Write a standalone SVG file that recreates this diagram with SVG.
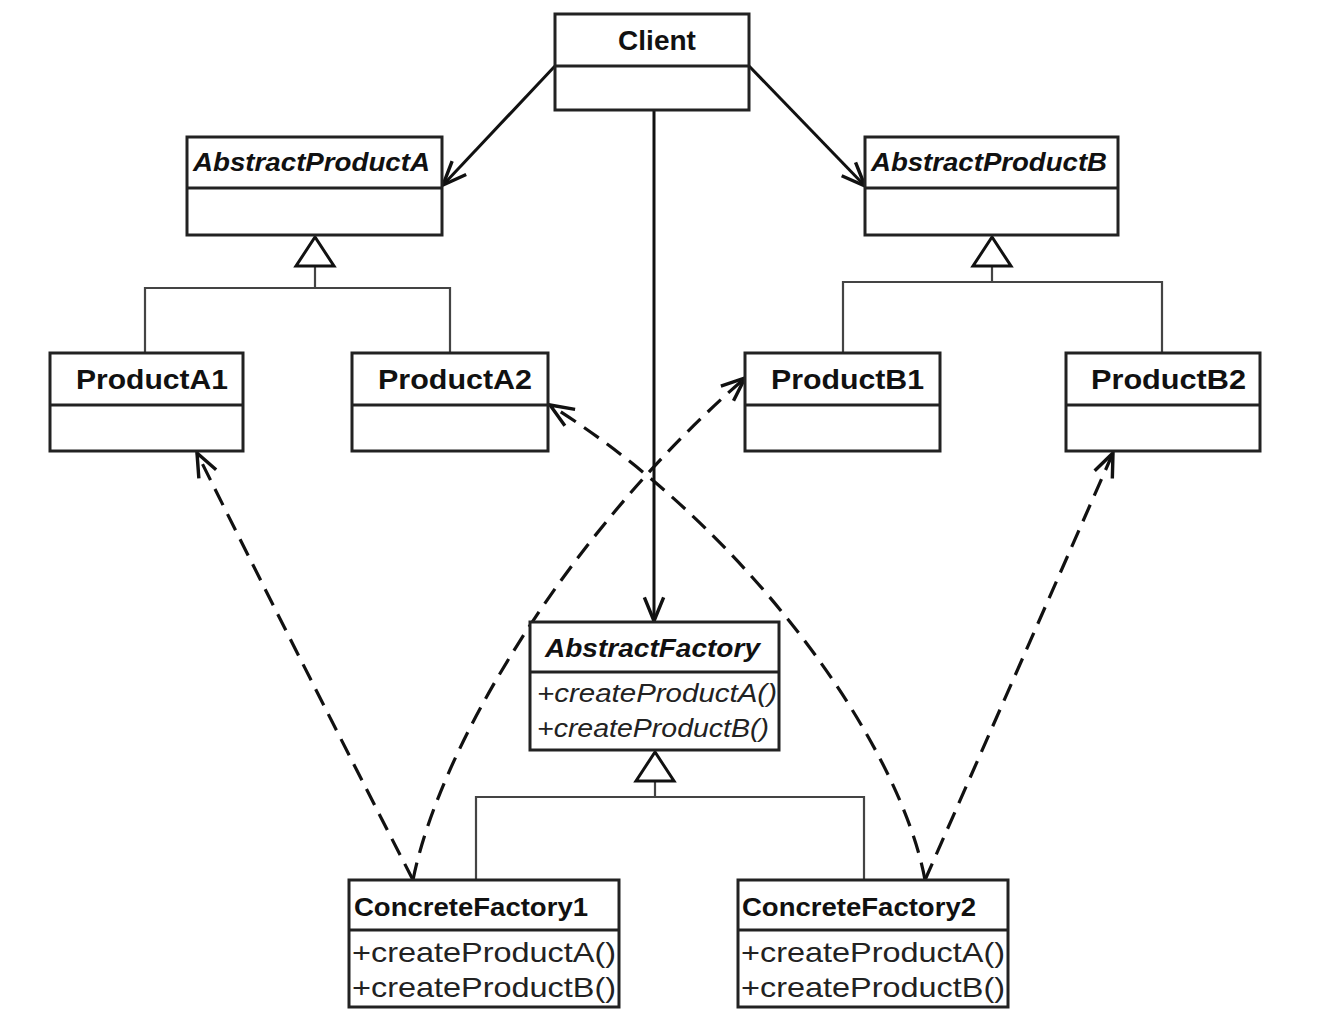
<svg xmlns="http://www.w3.org/2000/svg" width="1324" height="1024" viewBox="0 0 1324 1024">
<defs>
<marker id="open" markerUnits="userSpaceOnUse" markerWidth="30" markerHeight="30" viewBox="-24 -12 28 24" refX="0" refY="0" orient="auto">
<path d="M-22,-9 L0,0 L-22,9" fill="none" stroke="#111" stroke-width="3.2"/>
</marker>
</defs>
<style>
.box{fill:#fff;stroke:#222;stroke-width:3}
.div{stroke:#222;stroke-width:3}
.t{font-family:"Liberation Sans",Arial,sans-serif;font-weight:bold;fill:#111}
.it{font-style:italic}
.m{font-family:"Liberation Sans",Arial,sans-serif;fill:#222}
.gen{fill:none;stroke:#444;stroke-width:2.2}
.tri{fill:#fff;stroke:#111;stroke-width:3;stroke-linejoin:miter}
.assoc{fill:none;stroke:#111;stroke-width:3}
.dash{fill:none;stroke:#111;stroke-width:3.2;stroke-dasharray:18 10}
</style>
<rect width="1324" height="1024" fill="#fff"/>

<g id="connectors">
<line class="assoc" x1="555" y1="66" x2="443" y2="185" marker-end="url(#open)"/>
<line class="assoc" x1="749" y1="66" x2="865" y2="186" marker-end="url(#open)"/>
<line class="assoc" x1="654" y1="110" x2="654" y2="621" stroke-width="2.4" marker-end="url(#open)"/>
<polyline class="gen" points="145,353 145,288 450,288 450,353"/>
<line class="gen" x1="315" y1="266" x2="315" y2="288"/>
<polygon class="tri" points="315,237 296,266 334,266"/>
<polyline class="gen" points="843,353 843,282 1162,282 1162,353"/>
<line class="gen" x1="992" y1="266" x2="992" y2="282"/>
<polygon class="tri" points="992,237 973,266 1011,266"/>
<polyline class="gen" points="476,880 476,797 864,797 864,880"/>
<line class="gen" x1="655" y1="781" x2="655" y2="797"/>
<polygon class="tri" points="655,752 636,781 674,781"/>
<path class="dash" d="M413,880 Q300,660 197,453" marker-end="url(#open)"/>
<path class="dash" d="M413,880 C440,745 570,530 745,378" marker-end="url(#open)"/>
<path class="dash" d="M925,880 C900,745 750,530 550,405" marker-end="url(#open)"/>
<path class="dash" d="M925,880 L1113,453" marker-end="url(#open)"/>
</g>

<g id="Client">
<rect class="box" x="555" y="14" width="194" height="96"/>
<line class="div" x1="555" y1="66" x2="749" y2="66"/>
<text class="t" x="657" y="50" font-size="28" text-anchor="middle">Client</text>
</g>

<g id="AbstractProductA">
<rect class="box" x="187" y="137" width="255" height="98"/>
<line class="div" x1="187" y1="188" x2="442" y2="188"/>
<text class="t it" x="193" y="171" font-size="26" textLength="237" lengthAdjust="spacingAndGlyphs">AbstractProductA</text>
</g>

<g id="AbstractProductB">
<rect class="box" x="865" y="137" width="253" height="98"/>
<line class="div" x1="865" y1="188" x2="1118" y2="188"/>
<text class="t it" x="871" y="171" font-size="26" textLength="236" lengthAdjust="spacingAndGlyphs">AbstractProductB</text>
</g>

<g id="ProductA1">
<rect class="box" x="50" y="353" width="193" height="98"/>
<line class="div" x1="50" y1="405" x2="243" y2="405"/>
<text class="t" x="76" y="389" font-size="28" textLength="152" lengthAdjust="spacingAndGlyphs">ProductA1</text>
</g>

<g id="ProductA2">
<rect class="box" x="352" y="353" width="196" height="98"/>
<line class="div" x1="352" y1="405" x2="548" y2="405"/>
<text class="t" x="378" y="389" font-size="28" textLength="154" lengthAdjust="spacingAndGlyphs">ProductA2</text>
</g>

<g id="ProductB1">
<rect class="box" x="745" y="353" width="195" height="98"/>
<line class="div" x1="745" y1="405" x2="940" y2="405"/>
<text class="t" x="771" y="389" font-size="28" textLength="153" lengthAdjust="spacingAndGlyphs">ProductB1</text>
</g>

<g id="ProductB2">
<rect class="box" x="1066" y="353" width="194" height="98"/>
<line class="div" x1="1066" y1="405" x2="1260" y2="405"/>
<text class="t" x="1091" y="389" font-size="28" textLength="155" lengthAdjust="spacingAndGlyphs">ProductB2</text>
</g>

<g id="AbstractFactory">
<rect class="box" x="530" y="622" width="249" height="128"/>
<line class="div" x1="530" y1="672" x2="779" y2="672"/>
<text class="t it" x="545" y="657" font-size="26" textLength="215" lengthAdjust="spacingAndGlyphs">AbstractFactory</text>
<text class="m it" x="537" y="702" font-size="26" textLength="240" lengthAdjust="spacingAndGlyphs">+createProductA()</text>
<text class="m it" x="537" y="737" font-size="26" textLength="232" lengthAdjust="spacingAndGlyphs">+createProductB()</text>
</g>

<g id="ConcreteFactory1">
<rect class="box" x="349" y="880" width="270" height="127"/>
<line class="div" x1="349" y1="930" x2="619" y2="930"/>
<text class="t" x="354" y="916" font-size="26" textLength="234" lengthAdjust="spacingAndGlyphs">ConcreteFactory1</text>
<text class="m" x="352" y="962" font-size="28" textLength="264" lengthAdjust="spacingAndGlyphs">+createProductA()</text>
<text class="m" x="352" y="997" font-size="28" textLength="264" lengthAdjust="spacingAndGlyphs">+createProductB()</text>
</g>

<g id="ConcreteFactory2">
<rect class="box" x="738" y="880" width="270" height="127"/>
<line class="div" x1="738" y1="930" x2="1008" y2="930"/>
<text class="t" x="742" y="916" font-size="26" textLength="234" lengthAdjust="spacingAndGlyphs">ConcreteFactory2</text>
<text class="m" x="741" y="962" font-size="28" textLength="264" lengthAdjust="spacingAndGlyphs">+createProductA()</text>
<text class="m" x="741" y="997" font-size="28" textLength="264" lengthAdjust="spacingAndGlyphs">+createProductB()</text>
</g>
</svg>
